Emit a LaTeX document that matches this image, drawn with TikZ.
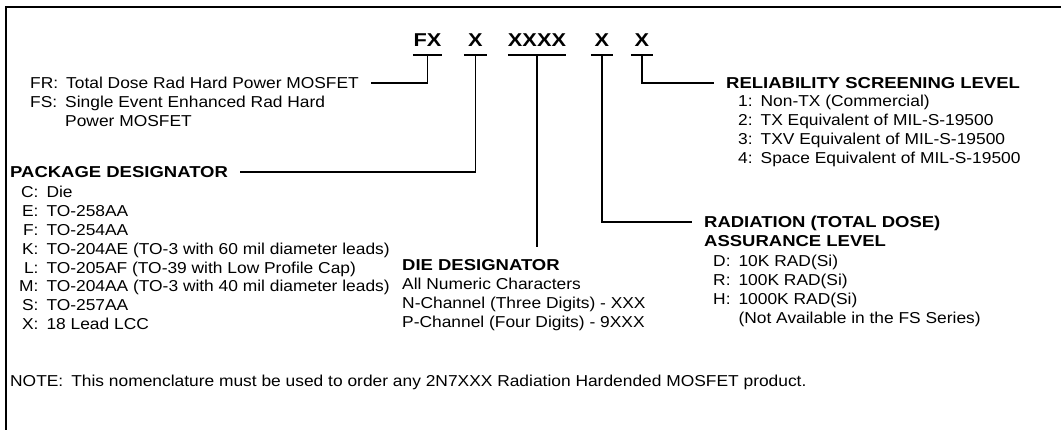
\documentclass[tikz,border=0pt]{standalone}
\usepackage{fontspec}
\setmainfont[FakeStretch=1.1, BoldFeatures={FakeStretch=1.17}]{Liberation Sans}
\usetikzlibrary{positioning}

\begin{document}
\begin{tikzpicture}[
  x=1pt, y=-1pt,
  every node/.style={inner sep=0pt, font=\fontsize{15.8}{18.9}\selectfont},
  code/.style={font=\fontsize{18.6}{22}\selectfont\bfseries, anchor=base,
               text height=13pt, text depth=0pt, outer ysep=8pt},
  head/.style={anchor=base west, font=\fontsize{15.8}{18.9}\selectfont\bfseries,
               text height=11pt, text depth=0pt},
  line/.style={anchor=base west, text height=11pt, text depth=0pt},
  list/.style={anchor=base west},
  frame/.style={line width=2.4pt},
  bar/.style={line width=1.5pt},
  lead/.style={line width=1.5pt, shorten >=12pt},
]
\useasboundingbox (0,0) rectangle (1061,430);
\draw[frame] (6,431) -- (6,7) -- (1062,7);

\node[code, minimum width=29pt] (fx) at (427.5,47) {FX};
\node[code, minimum width=23pt] (pkg) at (475.5,47) {X};
\node[code, minimum width=58pt] (die) at (537,47) {XXXX};
\node[code, minimum width=22pt] (rad) at (602,47) {X};
\node[code, minimum width=22pt] (rel) at (642,47) {X};

\node[line] (frtype) at (30,88.5) {FR:\hspace{8pt}Total Dose Rad Hard Power MOSFET};
\node[list] (fstype) at (30,107.4) {\begin{tabular}[t]{@{}l@{\hspace{8pt}}l@{}}
  FS: & Single Event Enhanced Rad Hard\\
      & Power MOSFET
\end{tabular}};

\node[head] (pkghead) at (10,177.5) {PACKAGE DESIGNATOR};
\node[list] (pkglist) at (19,197.5) {\begin{tabular}[t]{@{}r@{\hspace{8pt}}l@{}}
  C: & Die\\
  E: & TO-258AA\\
  F: & TO-254AA\\
  K: & TO-204AE (TO-3 with 60 mil diameter leads)\\
  L: & TO-205AF (TO-39 with Low Profile Cap)\\
  M: & TO-204AA (TO-3 with 40 mil diameter leads)\\
  S: & TO-257AA\\
  X: & 18 Lead LCC
\end{tabular}};

\node[head] (diehead) at (402,270.5) {DIE DESIGNATOR};
\node[list] (dielist) at (402,289.4) {\begin{tabular}[t]{@{}l@{}}
  All Numeric Characters\\
  N-Channel (Three Digits) - XXX\\
  P-Channel (Four Digits) - 9XXX
\end{tabular}};

\node[head] (radhead) at (704,227.5) {RADIATION (TOTAL DOSE)};
\node[head] (radsub) at (704,246.5) {ASSURANCE LEVEL};
\node[list] (radlist) at (713,266.5) {\begin{tabular}[t]{@{}r@{\hspace{8pt}}l@{}}
  D: & 10K RAD(Si)\\
  R: & 100K RAD(Si)\\
  H: & 1000K RAD(Si)\\
     & (Not Available in the FS Series)
\end{tabular}};

\node[head] (relhead) at (726,88.5) {RELIABILITY SCREENING LEVEL};
\node[list] (rellist) at (738,107) {\begin{tabular}[t]{@{}r@{\hspace{8pt}}l@{}}
  1: & Non-TX (Commercial)\\
  2: & TX Equivalent of MIL-S-19500\\
  3: & TXV Equivalent of MIL-S-19500\\
  4: & Space Equivalent of MIL-S-19500
\end{tabular}};

\node[line] (note) at (10,386.5) {NOTE:\hspace{8pt}This nomenclature must be used to order any 2N7XXX Radiation Hardended MOSFET product.};

\foreach \c in {fx,pkg,die,rad,rel}
  \draw[bar] (\c.south west) -- (\c.south east);
\draw[lead] (fx.south) |- (frtype.east);
\draw[lead] (pkg.south) |- (pkghead.east);
\draw[lead] (die.south) -- (die.south |- diehead.north);
\draw[lead] (rad.south) |- (radhead.west);
\draw[lead] (rel.south) |- (relhead.west);
\end{tikzpicture}
\end{document}
